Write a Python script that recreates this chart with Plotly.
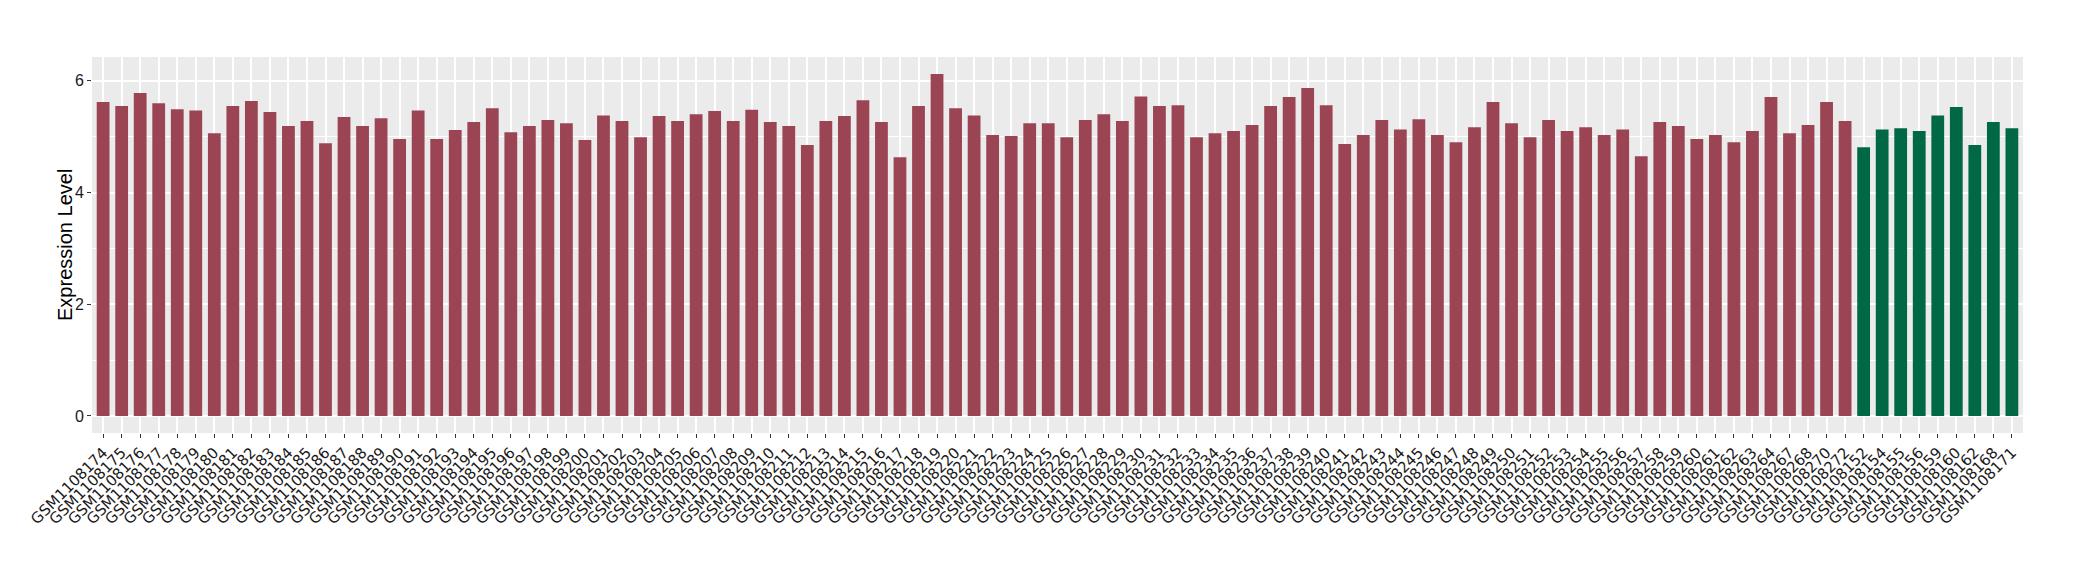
import plotly.graph_objects as go

samples_red = [
    "GSM1108174", "GSM1108175", "GSM1108176", "GSM1108177", "GSM1108178", "GSM1108179",
    "GSM1108180", "GSM1108181", "GSM1108182", "GSM1108183", "GSM1108184", "GSM1108185",
    "GSM1108186", "GSM1108187", "GSM1108188", "GSM1108189", "GSM1108190", "GSM1108191",
    "GSM1108192", "GSM1108193", "GSM1108194", "GSM1108195", "GSM1108196", "GSM1108197",
    "GSM1108198", "GSM1108199", "GSM1108200", "GSM1108201", "GSM1108202", "GSM1108203",
    "GSM1108204", "GSM1108205", "GSM1108206", "GSM1108207", "GSM1108208", "GSM1108209",
    "GSM1108210", "GSM1108211", "GSM1108212", "GSM1108213", "GSM1108214", "GSM1108215",
    "GSM1108216", "GSM1108217", "GSM1108218", "GSM1108219", "GSM1108220", "GSM1108221",
    "GSM1108222", "GSM1108223", "GSM1108224", "GSM1108225", "GSM1108226", "GSM1108227",
    "GSM1108228", "GSM1108229", "GSM1108230", "GSM1108231", "GSM1108232", "GSM1108233",
    "GSM1108234", "GSM1108235", "GSM1108236", "GSM1108237", "GSM1108238", "GSM1108239",
    "GSM1108240", "GSM1108241", "GSM1108242", "GSM1108243", "GSM1108244", "GSM1108245",
    "GSM1108246", "GSM1108247", "GSM1108248", "GSM1108249", "GSM1108250", "GSM1108251",
    "GSM1108252", "GSM1108253", "GSM1108254", "GSM1108255", "GSM1108256", "GSM1108257",
    "GSM1108258", "GSM1108259", "GSM1108260", "GSM1108261", "GSM1108262", "GSM1108263",
    "GSM1108264", "GSM1108267", "GSM1108268", "GSM1108270", "GSM1108272",
]
values_red = [
    5.62, 5.55, 5.78, 5.60, 5.49, 5.47, 5.06, 5.55, 5.64, 5.44,
    5.19, 5.28, 4.88, 5.35, 5.19, 5.33, 4.96, 5.47, 4.96, 5.12,
    5.26, 5.51, 5.08, 5.19, 5.30, 5.24, 4.94, 5.38, 5.28, 4.99,
    5.37, 5.28, 5.40, 5.46, 5.28, 5.48, 5.26, 5.19, 4.85, 5.28,
    5.37, 5.65, 5.26, 4.63, 5.55, 6.12, 5.51, 5.38, 5.03, 5.01,
    5.24, 5.24, 4.99, 5.30, 5.40, 5.28, 5.72, 5.55, 5.56, 4.99,
    5.06, 5.10, 5.21, 5.55, 5.71, 5.87, 5.56, 4.87, 5.03, 5.30,
    5.13, 5.31, 5.03, 4.90, 5.17, 5.62, 5.24, 4.99, 5.30, 5.10,
    5.17, 5.03, 5.13, 4.65, 5.26, 5.19, 4.96, 5.03, 4.90, 5.10,
    5.71, 5.06, 5.21, 5.62, 5.28,
]
samples_green = [
    "GSM1108152", "GSM1108154", "GSM1108155", "GSM1108156", "GSM1108159",
    "GSM1108160", "GSM1108162", "GSM1108168", "GSM1108171",
]
values_green = [4.81, 5.13, 5.15, 5.10, 5.38, 5.53, 4.85, 5.26, 5.15]

y_title = "Expression Level"
color_red = "#9B4453"
color_green = "#006845"

all_samples = samples_red + samples_green
all_values = values_red + values_green
y_max = max(all_values)
pad = 0.05 * y_max

fig = go.Figure()
fig.add_trace(go.Bar(x=samples_red, y=values_red, marker=dict(color=color_red, line=dict(width=0)),
                     showlegend=False))
fig.add_trace(go.Bar(x=samples_green, y=values_green, marker=dict(color=color_green, line=dict(width=0)),
                     showlegend=False))

fig.update_layout(
    width=2080, height=580,
    margin=dict(l=84, r=65, t=49, b=155, autoexpand=False),
    paper_bgcolor="white",
    plot_bgcolor="#EBEBEB",
    bargap=0.31,
    barmode="overlay",
    font=dict(family="Liberation Sans, Arial, sans-serif", color="#1a1a1a"),
    xaxis=dict(
        type="category",
        categoryorder="array",
        categoryarray=all_samples,
        range=[-0.6, len(all_samples) - 1 + 0.6],
        tickangle=-45,
        tickfont=dict(family="DejaVu Sans", size=15, color="#1a1a1a"),
        showgrid=True, gridcolor="white", gridwidth=1.5,
        ticks="outside", ticklen=4, tickcolor="#333333", tickwidth=1,
        showline=False, zeroline=False, automargin=False,
    ),
    yaxis=dict(
        range=[-pad, y_max + pad],
        tickvals=[0, 2, 4, 6],
        ticktext=["0", "2", "4", "6"],
        tickfont=dict(family="Liberation Sans", size=16, color="#1a1a1a"),
        showgrid=True, gridcolor="white", gridwidth=1.5,
        minor=dict(tickvals=[1, 3, 5], showgrid=True, gridcolor="white", gridwidth=0.7, ticks=""),
        ticks="outside", ticklen=4, tickcolor="#333333", tickwidth=1,
        zeroline=False, showline=False, automargin=False,
    ),
    annotations=[dict(
        text=y_title, textangle=-90, showarrow=False,
        xref="paper", yref="paper", x=-0.014, y=0.5,
        xanchor="center", yanchor="middle",
        font=dict(family="Liberation Sans", size=20, color="black"),
    )],
)

fig.write_html("out.html")
